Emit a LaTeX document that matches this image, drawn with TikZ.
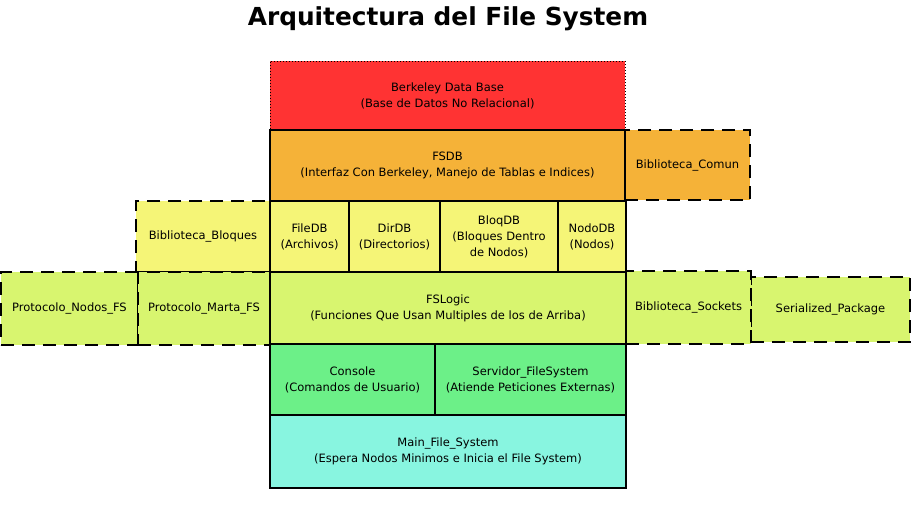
\documentclass[tikz,border=0pt]{standalone}
\usepackage{fontspec}
\setmainfont{DejaVu Sans}
\usepackage{tikz}
\definecolor{berkeleyred}{HTML}{FF3333}
\definecolor{fsdborange}{HTML}{F5B238}
\definecolor{dbyellow}{HTML}{F5F577}
\definecolor{logicgreen}{HTML}{D8F56F}
\definecolor{usergreen}{HTML}{6CF088}
\definecolor{maincyan}{HTML}{88F5E0}
\tikzset{layer/.style={draw, line width=1.9pt}}
\tikzset{library/.style={draw, line width=1.9pt, dash pattern=on 13pt off 8pt}}
\tikzset{external/.style={draw, line width=1pt, dotted}}

\begin{document}
\begin{tikzpicture}[x=1pt, y=-1pt]
	% Default action for each node
	\tikzstyle{every node}=[shape=rectangle, anchor=north west, inner sep=0pt, outer sep=0pt, align=center, font=\fontsize{11.5}{16}\selectfont];

	\useasboundingbox (0,0) rectangle (912,506);

	% Title
	\node[anchor=center, font=\bfseries\fontsize{24.8}{28}\selectfont] (title) at (448,19) {Arquitectura del File System};

	% LHS libraries
	\node[library, fill=dbyellow, minimum width=134, minimum height=71] (bloques) at (136,201) {Biblioteca\_Bloques};
	\node[library, fill=logicgreen, minimum width=137, minimum height=73] (nodosfs) at (1,272) {Protocolo\_Nodos\_FS};
	\node[library, fill=logicgreen, minimum width=132, minimum height=73] (martafs) at (138,272) {Protocolo\_Marta\_FS};

	% RHS libraries
	\node[library, fill=fsdborange, minimum width=125, minimum height=70] (comun) at (625,130) {Biblioteca\_Comun};
	\node[library, fill=logicgreen, minimum width=159, minimum height=65] (serialized) at (751,277) {Serialized\_Package};
	\node[library, fill=logicgreen, minimum width=125, minimum height=73] (sockets) at (626,271) {Biblioteca\_Sockets};

	% MIDDLE
	\node[external, fill=berkeleyred, minimum width=355, minimum height=69] (berkeley) at (270,61) {Berkeley Data Base\\(Base de Datos No Relacional)};
	\node[layer, fill=fsdborange, minimum width=355, minimum height=71] (fsdb) at (270,130) {FSDB\\(Interfaz Con Berkeley, Manejo de Tablas e Indices)};

	\node[layer, fill=dbyellow, minimum width=79, minimum height=71] (filedb) at (270,201) {FileDB\\(Archivos)};
	\node[layer, fill=dbyellow, minimum width=91, minimum height=71] (dirdb) at (349,201) {DirDB\\(Directorios)};
	\node[layer, fill=dbyellow, minimum width=118, minimum height=71] (bloqdb) at (440,201) {BloqDB\\(Bloques Dentro\\de Nodos)};
	\node[layer, fill=dbyellow, minimum width=68, minimum height=71] (nododb) at (558,201) {NodoDB\\(Nodos)};

	\node[layer, fill=logicgreen, minimum width=356, minimum height=72] (fslogic) at (270,272) {FSLogic\\(Funciones Que Usan Multiples de los de Arriba)};

	\node[layer, fill=usergreen, minimum width=165, minimum height=71] (console) at (270,344) {Console\\(Comandos de Usuario)};
	\node[layer, fill=usergreen, minimum width=191, minimum height=71] (servidor) at (435,344) {Servidor\_FileSystem\\(Atiende Peticiones Externas)};

	\node[layer, fill=maincyan, minimum width=356, minimum height=73] (mainfs) at (270,415) {Main\_File\_System\\(Espera Nodos Minimos e Inicia el File System)};
\end{tikzpicture}
\end{document}
